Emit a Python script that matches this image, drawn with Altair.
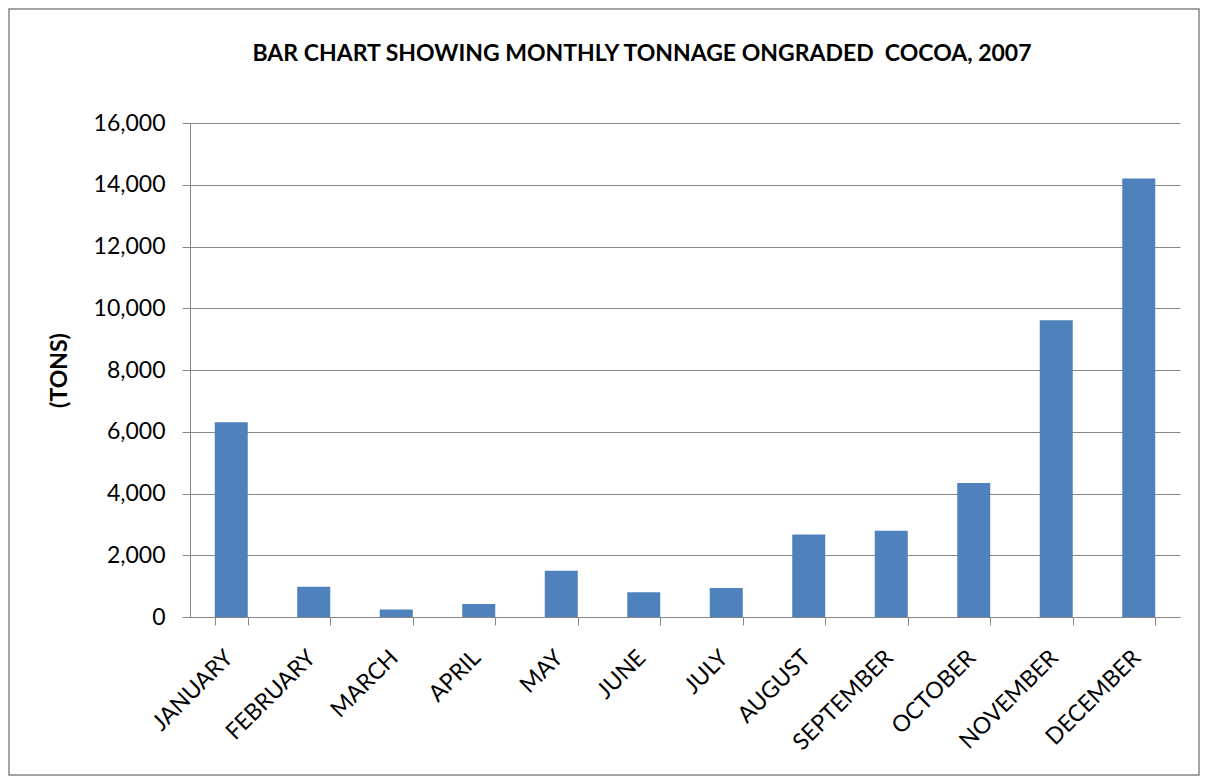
import altair as alt
import pandas as pd

months = ["JANUARY", "FEBRUARY", "MARCH", "APRIL", "MAY", "JUNE", "JULY",
          "AUGUST", "SEPTEMBER", "OCTOBER", "NOVEMBER", "DECEMBER"]
tons = [6310, 980, 240, 420, 1500, 800, 940, 2670, 2790, 4340, 9610, 14200]
y_ticks = [0, 2000, 4000, 6000, 8000, 10000, 12000, 14000, 16000]
title_text = "BAR CHART SHOWING MONTHLY TONNAGE ONGRADED\u00a0 COCOA, 2007"

df = pd.DataFrame({"month": months, "tons": tons})

FONT = "Lato"
GRAY = "#868686"
W, H = 990, 494

bars = alt.Chart(df).mark_bar(color="#4F81BD").encode(
    x=alt.X("month:N", sort=months,
            scale=alt.Scale(paddingInner=0.6, paddingOuter=0.3),
            axis=alt.Axis(title=None, labelAngle=-45, labelFont=FONT,
                          labelFontSize=23, labelColor="black",
                          tickBand="extent", tickSize=8, tickColor=GRAY,
                          domainColor=GRAY, labelPadding=21, labelOffset=-10,
                          grid=False)),
    y=alt.Y("tons:Q", scale=alt.Scale(domain=[0, 16000], nice=False),
            axis=alt.Axis(title="(TONS)", values=y_ticks, format=",.0f",
                          labelFont=FONT, labelFontSize=23, labelColor="black",
                          titleFont=FONT, titleFontSize=23, titleFontWeight="bold",
                          titleColor="black", titlePadding=22,
                          tickSize=8, tickColor=GRAY, domainColor=GRAY,
                          labelPadding=17, grid=True, gridColor=GRAY,
                          gridOpacity=1)),
)

title = alt.Chart(pd.DataFrame({"t": [title_text]})).mark_text(
    font=FONT, fontSize=23, fontWeight="bold", color="black",
    align="center", baseline="alphabetic"
).encode(text="t:N", x=alt.value(452), y=alt.value(-62))

border = alt.Chart(pd.DataFrame({"a": [0]})).mark_rect(
    fill=None, stroke=GRAY, strokeWidth=1.5
).encode(x=alt.value(-181), x2=alt.value(1009), y=alt.value(-114), y2=alt.value(652))

chart = alt.layer(bars, title, border).properties(
    width=W, height=H,
    autosize=alt.AutoSizeParams(type="none"),
    padding={"left": 182, "top": 115, "right": 20, "bottom": 159},
).configure_view(stroke=None)

chart.save("out.html", embed_options={"renderer": "svg", "actions": False})
